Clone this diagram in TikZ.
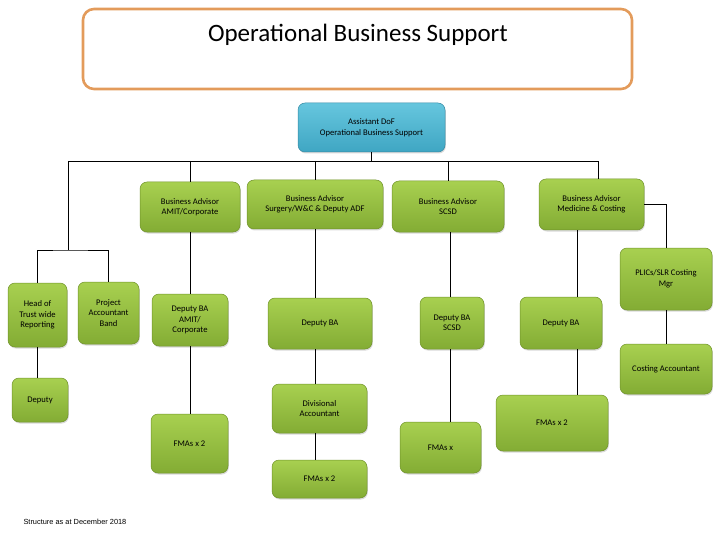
\documentclass[tikz,border=0pt]{standalone}
\usepackage{fontspec}
\setmainfont{Carlito}
\newfontfamily\arialfont{Liberation Sans}
\usetikzlibrary{shadows}
\definecolor{gtop}{HTML}{A8D050}
\definecolor{gbot}{HTML}{83AC34}
\definecolor{gedge}{HTML}{6F9229}
\definecolor{btop}{HTML}{66C6DE}
\definecolor{bbot}{HTML}{3FA6C3}
\definecolor{bedge}{HTML}{3589A3}
\definecolor{orangeline}{HTML}{E39B5B}

\begin{document}
\begin{tikzpicture}[x=1pt,y=-1pt,
  gbox/.style={rounded corners=7pt,top color=gtop,bottom color=gbot,draw=gedge,
    line width=0.5pt,align=center,font=\fontsize{8.6}{10.5}\selectfont,inner sep=1pt,
    drop shadow={opacity=0.3,shadow xshift=0.8pt,shadow yshift=-1.5pt}},
  bbox/.style={gbox,top color=btop,bottom color=bbot,draw=bedge},
  link/.style={line width=0.8pt}]
  \useasboundingbox (0,0) rectangle (720,540);
  % title
  \node[draw=orangeline,line width=2.6pt,rounded corners=11pt,
        minimum width=549pt,minimum height=80pt] (title) at (357.5,49) {};
  \node[font=\fontsize{25}{30}\selectfont] (titletext) at (358,35) {Operational Business Support};
  \node[bbox,minimum width=147pt,minimum height=49pt] (dof) at (371.5,127.5)
    {Assistant DoF\\Operational Business Support};
  % business advisors
  \node[gbox,minimum width=100pt,minimum height=50pt] (ba1) at (190,207) {Business Advisor\\AMIT/Corporate};
  \node[gbox,minimum width=136pt,minimum height=49pt] (ba2) at (315,204.5) {Business Advisor\\Surgery/W\&C \& Deputy ADF};
  \node[gbox,minimum width=112pt,minimum height=51pt] (ba3) at (448,206.5) {Business Advisor\\SCSD};
  \node[gbox,minimum width=105pt,minimum height=51pt] (ba4) at (591.5,204.5) {Business Advisor\\Medicine \& Costing};
  \node[gbox,minimum width=92pt,minimum height=62pt] (plics) at (666,279) {PLICs/SLR Costing\\Mgr};
  \node[gbox,minimum width=92pt,minimum height=50pt] (cost) at (666,369) {Costing Accountant};
  % second row
  \node[gbox,minimum width=59pt,minimum height=64pt] (head) at (37.5,315) {Head of\\Trust wide\\Reporting};
  \node[gbox,minimum width=61pt,minimum height=62pt] (proj) at (108.5,313) {Project\\Accountant\\Band};
  \node[gbox,minimum width=56pt,minimum height=44pt] (dep) at (40,400) {Deputy};
  \node[gbox,minimum width=76pt,minimum height=52pt] (dba1) at (190,320) {Deputy BA\\AMIT/\\Corporate};
  \node[gbox,minimum width=104pt,minimum height=51pt] (dba2) at (320,323.5) {Deputy BA};
  \node[gbox,minimum width=64pt,minimum height=52pt] (dba3) at (452,323) {Deputy BA\\SCSD};
  \node[gbox,minimum width=82pt,minimum height=52pt] (dba4) at (561,323) {Deputy BA};
  % lower row
  \node[gbox,minimum width=77pt,minimum height=59pt] (fma1) at (189.5,443.5) {FMAs x 2};
  \node[gbox,minimum width=95pt,minimum height=49pt] (div) at (319.5,408.5) {Divisional\\Accountant};
  \node[gbox,minimum width=95pt,minimum height=38pt] (fma2) at (319.5,479) {FMAs x 2};
  \node[gbox,minimum width=81pt,minimum height=51pt] (fma3) at (440.5,447.5) {FMAs x};
  \node[gbox,minimum width=112pt,minimum height=56pt] (fma4) at (552,423) {FMAs x 2};
  \node[font=\arialfont\fontsize{7.4}{9}\selectfont,anchor=west] (note) at (20,522)
    {Structure as at December 2018};
  % connectors
  \coordinate (busL) at (68,161);
  \coordinate (busR) at (598,161);
  \coordinate (split) at (68,250);
  \draw[link] (dof.south) -- (dof.south |- busL);
  \draw[link] (busL) -- (busR) -- (busR |- ba4.north);
  \foreach \n in {ba1,ba2,ba3} \draw[link] (\n.north |- busL) -- (\n.north);
  \draw[link] (busL) -- (split);
  \draw[link] (head.north) |- (split) -| (proj.north);
  \draw[link] (head.south) -- (head.south |- dep.north);
  \draw[link] (ba4.east) -| (plics.north);
  \draw[link] (plics) -- (cost);
  \draw[link] (ba1) -- (dba1);
  \draw[link] (dba1) -- (dba1.south |- fma1.north);
  \draw[link] (ba2.south) -- (ba2.south |- dba2.north);
  \draw[link] (ba2.south |- dba2.south) -- (ba2.south |- div.north);
  \draw[link] (ba2.south |- div.south) -- (ba2.south |- fma2.north);
  \draw[link] (ba3.south) ++(2,0) coordinate (c3) -- (c3 |- dba3.north);
  \draw[link] (c3 |- dba3.south) -- (c3 |- fma3.north);
  \coordinate (c4) at (577,0);
  \draw[link] (c4 |- ba4.south) -- (c4 |- dba4.north);
  \draw[link] (c4 |- dba4.south) -- (c4 |- fma4.north);
\end{tikzpicture}
\end{document}
